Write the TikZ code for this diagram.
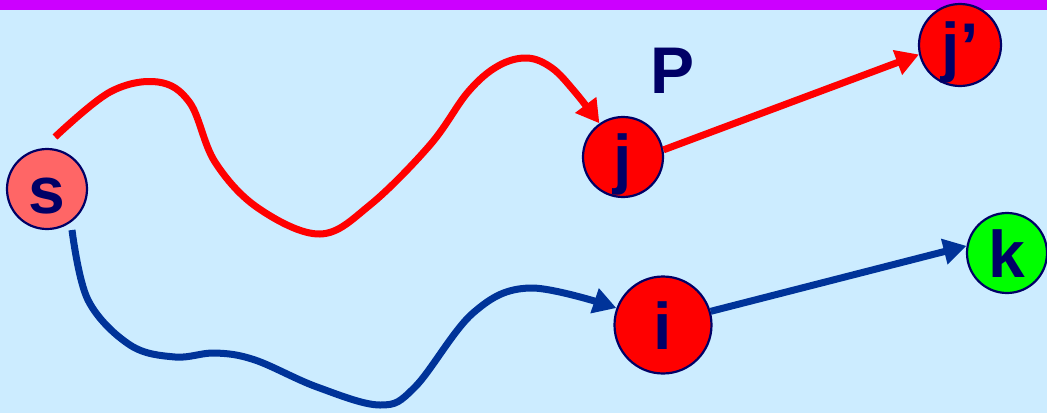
\documentclass[tikz,border=0pt]{standalone}
\usepackage{fontspec}
\setmainfont{Liberation Sans}
\usetikzlibrary{arrows.meta}
\definecolor{bg}{HTML}{CCECFF}
\definecolor{bar}{HTML}{CC00FF}
\definecolor{navy}{HTML}{000066}
\definecolor{pathblue}{HTML}{003399}
\definecolor{sfill}{HTML}{FF6666}
\definecolor{kfill}{HTML}{00FF00}
\definecolor{nred}{HTML}{FF0000}
\tikzset{
  vert/.style={circle, draw=navy, line width=2.2pt, inner sep=0pt, minimum size=#1,
    text=navy, font=\fontsize{66}{66}\selectfont\bfseries, text height=48pt, text depth=0pt},
  vert/.default=80pt,
  redpath/.style={draw=nred, line width=7pt, -{Triangle[length=23pt,width=25pt]}},
  bluepath/.style={draw=pathblue, line width=7pt, -{Triangle[length=23pt,width=25pt]}},
  lbl/.style={text=navy, font=\fontsize{66}{66}\selectfont\bfseries, inner sep=0pt}
}
\begin{document}
\begin{tikzpicture}[x=1pt,y=-1pt]
\useasboundingbox (0,0) rectangle (1047,413);
\fill[bg] (0,0) rectangle (1047,413);
\fill[bar] (0,0) rectangle (1047,10);
% nodes
\node[vert, fill=sfill] (s) at (47,189) {s};
\node[vert, fill=nred] (j) at (623,157) {j};
\node[vert=82pt, fill=nred] (jp) at (960,45) {j’};
\node[vert=97pt, fill=nred] (i) at (663,325) {i};
\node[vert, fill=kfill] (k) at (1007,253) {k};
\node[lbl, anchor=base] (P) at (673,93) {P};
% free starts
\coordinate (rs) at (55,137);
\coordinate (bs) at (72,230);
% red curved path
\draw[redpath] plot[smooth, tension=0.6] coordinates {
  (rs) (110,92) (158,82) (190,103) (215,162) (258,208) (320,234)
  (370,205) (430,145) (468,92) (498,66) (527,58) (552,68) (575,92) (j.125)};
% blue curved path
\draw[bluepath] plot[smooth, tension=0.6] coordinates {
  (bs) (88,300) (130,345) (175,357) (215,353) (255,360) (317,387)
  (380,405) (415,387) (473,313) (530,288) (i.160)};
% straight edges
\draw[redpath] (j.10) -- (jp.193);
\draw[bluepath] (i.16) -- (k.170);
\end{tikzpicture}
\end{document}
